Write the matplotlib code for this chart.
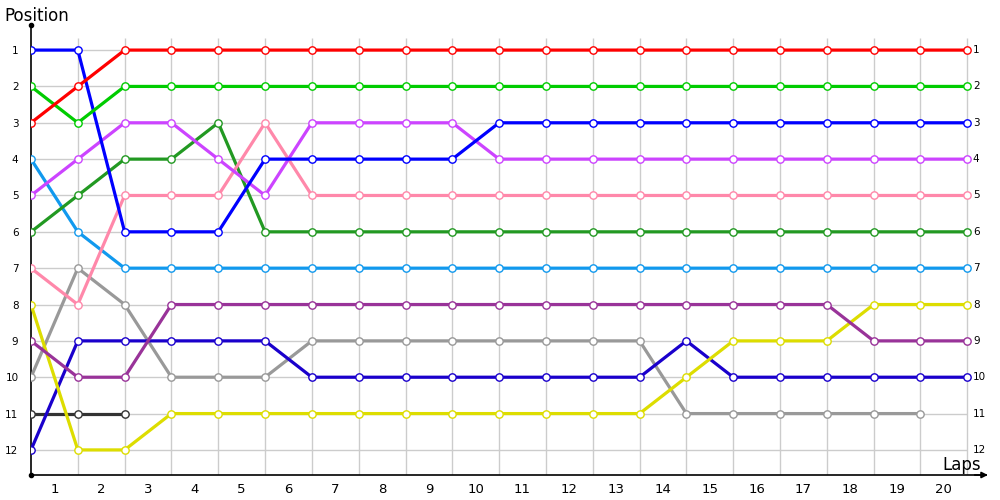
import numpy as np
import matplotlib.pyplot as plt

# lap 0 = start, then laps 1..20
laps = list(range(21))
lap_labels = [str(i) for i in range(1, 21)]
positions = list(range(1, 13))

red = [3, 2] + [1] * 19
green = [2, 3] + [2] * 19
blue = [1, 1, 6, 6, 6, 4, 4, 4, 4, 4] + [3] * 11
violet = [5, 4, 3, 3, 4, 5, 3, 3, 3, 3] + [4] * 11
pink = [7, 8, 5, 5, 5, 3] + [5] * 15
dark_green = [6, 5, 4, 4, 3] + [6] * 16
light_blue = [4, 6] + [7] * 19
purple = [9, 10, 10] + [8] * 15 + [9, 9, 9]
yellow = [8, 12, 12] + [11] * 11 + [10, 9, 9, 9, 8, 8, 8]
gray = [10, 7, 8, 10, 10, 10] + [9] * 8 + [11] * 6
navy = [12, 9, 9, 9, 9, 9] + [10] * 8 + [9] + [10] * 6
charcoal = [11, 11, 11]

series = [
    (charcoal, '#333333'),
    (gray, '#999999'),
    (navy, '#1a00cc'),
    (yellow, '#dddd00'),
    (purple, '#993399'),
    (light_blue, '#1199ee'),
    (dark_green, '#229922'),
    (pink, '#ff88aa'),
    (violet, '#cc44ff'),
    (blue, '#0000ff'),
    (green, '#00cc00'),
    (red, '#ff0000'),
]

fig = plt.figure(figsize=(10, 5), dpi=100)
ax = fig.add_axes([0.031, 0.05, 0.955, 0.9])
ax.set_xlim(0, 20.4)
ax.set_ylim(12.69, 0.31)

# grid
ax.vlines(laps[1:], 0.67, 12.69, color='#cccccc', lw=1, zorder=1)
ax.hlines(positions, 0, 20, color='#cccccc', lw=1, zorder=1)

for vals, col in series:
    x = laps[:len(vals)]
    ax.plot(x, vals, color=col, lw=2.3, zorder=3, solid_capstyle='round',
            marker='o', ms=5.3, mfc='white', mec=col, mew=1.0)

for s in ['top', 'right']:
    ax.spines[s].set_visible(False)
ax.spines['left'].set_linewidth(1.2)
ax.spines['bottom'].set_linewidth(1.2)
ax.spines['left'].set_zorder(2)

ax.set_xticks([i + 0.5 for i in range(20)])
ax.set_xticklabels(lap_labels, fontsize=9.5)
ax.tick_params(axis='x', length=0, pad=6)
ax.set_yticks(positions)
ax.set_yticklabels([str(p) for p in positions], fontsize=7.5)
ax.tick_params(axis='y', length=0, pad=9)

for p in positions:
    ax.text(20.12, p, str(p), fontsize=7.5, va='center', ha='left')

# axis decorations
ax.plot([0], [0.31], 'o', color='black', ms=3, clip_on=False, zorder=5)
ax.plot([0], [12.69], 'o', color='black', ms=3, clip_on=False, zorder=5)
ax.annotate('', xy=(20.5, 12.69), xytext=(20.1, 12.69),
            arrowprops=dict(arrowstyle='-|>', color='black', lw=1.2,
                            mutation_scale=9),
            annotation_clip=False)

fig.text(0.004, 0.968, 'Position', fontsize=12, ha='left', va='center')
fig.text(0.942, 0.07, 'Laps', fontsize=12, ha='left', va='center')

fig.savefig('out.png', dpi=100)
